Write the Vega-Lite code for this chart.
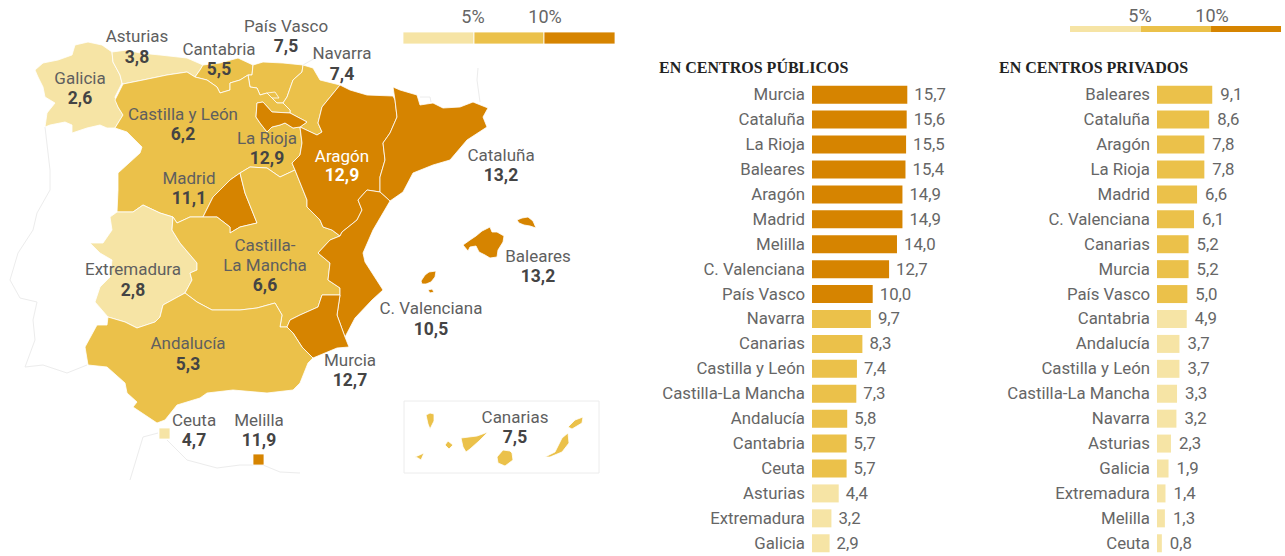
{
"$schema":"https://vega.github.io/schema/vega-lite/v6.json",
"padding":0,"spacing":0,"background":"white",
"config":{"view":{"stroke":null},"font":"Roboto","locale":{"number":{"decimal":",","thousands":".","grouping":[3],"currency":["","€"]}}},
"datasets":{
"publico":[
{"orden":1,"zona":"Murcia","valor":15.7},{"orden":2,"zona":"Cataluña","valor":15.6},{"orden":3,"zona":"La Rioja","valor":15.5},{"orden":4,"zona":"Baleares","valor":15.4},{"orden":5,"zona":"Aragón","valor":14.9},{"orden":6,"zona":"Madrid","valor":14.9},{"orden":7,"zona":"Melilla","valor":14.0},{"orden":8,"zona":"C. Valenciana","valor":12.7},{"orden":9,"zona":"País Vasco","valor":10.0},{"orden":10,"zona":"Navarra","valor":9.7},{"orden":11,"zona":"Canarias","valor":8.3},{"orden":12,"zona":"Castilla y León","valor":7.4},{"orden":13,"zona":"Castilla-La Mancha","valor":7.3},{"orden":14,"zona":"Andalucía","valor":5.8},{"orden":15,"zona":"Cantabria","valor":5.7},{"orden":16,"zona":"Ceuta","valor":5.7},{"orden":17,"zona":"Asturias","valor":4.4},{"orden":18,"zona":"Extremadura","valor":3.2},{"orden":19,"zona":"Galicia","valor":2.9}],
"privado":[
{"orden":1,"zona":"Baleares","valor":9.1},{"orden":2,"zona":"Cataluña","valor":8.6},{"orden":3,"zona":"Aragón","valor":7.8},{"orden":4,"zona":"La Rioja","valor":7.8},{"orden":5,"zona":"Madrid","valor":6.6},{"orden":6,"zona":"C. Valenciana","valor":6.1},{"orden":7,"zona":"Canarias","valor":5.2},{"orden":8,"zona":"Murcia","valor":5.2},{"orden":9,"zona":"País Vasco","valor":5.0},{"orden":10,"zona":"Cantabria","valor":4.9},{"orden":11,"zona":"Andalucía","valor":3.7},{"orden":12,"zona":"Castilla y León","valor":3.7},{"orden":13,"zona":"Castilla-La Mancha","valor":3.3},{"orden":14,"zona":"Navarra","valor":3.2},{"orden":15,"zona":"Asturias","valor":2.3},{"orden":16,"zona":"Galicia","valor":1.9},{"orden":17,"zona":"Extremadura","valor":1.4},{"orden":18,"zona":"Melilla","valor":1.3},{"orden":19,"zona":"Ceuta","valor":0.8}],
"contexto":[
{"type":"Feature","properties":{"nombre":"Portugal"},"geometry":{"type":"LineString","coordinates":[[45,127],[50,170],[50,190],[37,213],[33,230],[18,253],[10,280],[20,298],[37,302],[33,320],[35,340],[25,367],[43,365],[67,373],[87,365]]}},
{"type":"Feature","properties":{"nombre":"Francia"},"geometry":{"type":"LineString","coordinates":[[303,65],[317,57]]}},
{"type":"Feature","properties":{"nombre":"Francia este"},"geometry":{"type":"LineString","coordinates":[[478,68],[477,80],[480,102]]}},
{"type":"Feature","properties":{"nombre":"Andorra"},"geometry":{"type":"LineString","coordinates":[[420,97],[430,97],[431,102]]}},
{"type":"Feature","properties":{"nombre":"África"},"geometry":{"type":"LineString","coordinates":[[130,480],[143,437],[158,433]]}},
{"type":"Feature","properties":{"nombre":"África este"},"geometry":{"type":"LineString","coordinates":[[167,440],[187,460],[217,468],[240,465],[263,465],[280,472],[300,473]]}},
{"type":"Feature","properties":{"nombre":"Recuadro Canarias"},"geometry":{"type":"LineString","coordinates":[[404,401],[599,401],[599,473],[404,473],[404,401]]}}
],
"regiones":[
{"type":"Feature","properties":{"region":"Galicia","valor":2.6},"geometry":{"type":"Polygon","coordinates":[[[35,70],[43,63],[58,60],[72,55],[75,45],[88,42],[102,45],[112,52],[113,62],[120,75],[122,83],[115,97],[118,107],[123,115],[115,128],[107,128],[100,125],[87,128],[72,133],[72,125],[65,122],[50,125],[45,127],[47,113],[55,103],[45,97],[43,87],[38,77],[35,70]]]}},
{"type":"Feature","properties":{"region":"Asturias","valor":3.8},"geometry":{"type":"Polygon","coordinates":[[[112,52],[127,50],[140,53],[160,55],[187,58],[203,65],[200,70],[195,77],[187,72],[167,75],[143,80],[123,84],[122,83],[120,75],[113,62],[112,52]]]}},
{"type":"Feature","properties":{"region":"Cantabria","valor":5.5},"geometry":{"type":"Polygon","coordinates":[[[203,65],[220,63],[238,58],[253,65],[252,75],[248,75],[240,80],[230,83],[230,90],[220,93],[217,87],[207,80],[195,77],[200,70],[203,65]]]}},
{"type":"Feature","properties":{"region":"País Vasco","valor":7.5},"geometry":{"type":"Polygon","coordinates":[[[253,65],[263,62],[283,63],[303,65],[302,72],[293,80],[287,97],[283,103],[277,103],[267,93],[260,95],[257,88],[250,87],[248,75],[252,75],[253,65]]]}},
{"type":"Feature","properties":{"region":"Navarra","valor":7.4},"geometry":{"type":"Polygon","coordinates":[[[303,65],[313,68],[320,80],[340,85],[322,107],[318,123],[322,132],[317,135],[300,127],[307,122],[290,113],[290,110],[283,103],[287,97],[293,80],[302,72],[303,65]]]}},
{"type":"Feature","properties":{"region":"Castilla y León","valor":6.2},"geometry":{"type":"Polygon","coordinates":[[[115,100],[123,84],[143,80],[167,75],[187,72],[195,77],[207,80],[217,87],[220,93],[230,90],[230,83],[240,80],[248,75],[250,87],[257,88],[260,95],[267,93],[277,103],[283,103],[290,110],[290,113],[272,112],[263,102],[257,103],[256,117],[260,123],[267,132],[272,127],[280,125],[285,123],[293,128],[300,127],[302,143],[300,155],[292,163],[295,170],[280,177],[267,168],[250,167],[240,173],[230,180],[213,197],[203,217],[190,217],[177,223],[173,217],[160,213],[143,205],[133,212],[117,212],[118,190],[118,173],[140,153],[142,147],[127,132],[115,128],[123,115],[118,107],[115,100]]]}},
{"type":"Feature","properties":{"region":"Treviño","valor":6.2},"geometry":{"type":"Polygon","coordinates":[[[267,93],[275,92],[279,98],[272,98],[267,93]]]}},
{"type":"Feature","properties":{"region":"La Rioja","valor":12.9},"geometry":{"type":"Polygon","coordinates":[[[257,103],[263,102],[272,112],[290,113],[307,122],[300,127],[293,128],[285,123],[280,125],[272,127],[267,132],[260,123],[256,117],[257,103]]]}},
{"type":"Feature","properties":{"region":"Madrid","valor":11.1},"geometry":{"type":"Polygon","coordinates":[[[240,173],[245,193],[257,223],[240,227],[230,233],[230,227],[217,217],[203,217],[213,197],[230,180],[240,173]]]}},
{"type":"Feature","properties":{"region":"Extremadura","valor":2.8},"geometry":{"type":"Polygon","coordinates":[[[110,217],[117,212],[133,212],[143,205],[160,213],[173,217],[172,230],[180,243],[197,263],[197,270],[190,273],[192,280],[185,293],[163,305],[160,317],[155,322],[137,328],[125,322],[108,317],[95,302],[100,287],[110,277],[112,260],[100,253],[90,243],[103,243],[112,230],[110,217]]]}},
{"type":"Feature","properties":{"region":"Castilla-La Mancha","valor":6.6},"geometry":{"type":"Polygon","coordinates":[[[173,217],[177,223],[190,217],[203,217],[217,217],[230,227],[230,233],[240,227],[257,223],[245,193],[240,173],[250,167],[267,168],[280,177],[295,170],[307,200],[307,207],[320,220],[323,227],[332,230],[340,236],[330,240],[318,253],[330,263],[328,280],[340,288],[340,295],[322,295],[318,307],[300,315],[290,320],[287,327],[280,327],[282,315],[275,303],[257,308],[240,310],[212,310],[197,302],[185,293],[192,280],[190,273],[197,270],[197,263],[180,243],[172,230],[173,217]]]}},
{"type":"Feature","properties":{"region":"Aragón","valor":12.9},"geometry":{"type":"Polygon","coordinates":[[[340,85],[350,90],[367,95],[393,96],[395,100],[397,117],[390,133],[383,143],[385,160],[380,177],[380,192],[367,190],[358,200],[362,210],[357,220],[342,232],[340,236],[332,230],[323,227],[320,220],[307,207],[307,200],[295,170],[292,163],[300,155],[302,143],[300,127],[317,135],[322,132],[318,123],[322,107],[340,85]]]}},
{"type":"Feature","properties":{"region":"Cataluña","valor":13.2},"geometry":{"type":"Polygon","coordinates":[[[393,87],[400,90],[417,95],[420,105],[433,103],[443,108],[460,107],[473,102],[488,108],[483,117],[487,127],[467,140],[450,160],[433,165],[413,173],[403,192],[390,201],[380,192],[380,177],[385,160],[383,143],[390,133],[397,117],[395,100],[393,87]]]}},
{"type":"Feature","properties":{"region":"C. Valenciana","valor":10.5},"geometry":{"type":"Polygon","coordinates":[[[380,192],[390,201],[373,230],[363,253],[365,262],[383,290],[372,300],[355,318],[345,337],[337,315],[340,295],[340,288],[328,280],[330,263],[318,253],[330,240],[340,236],[342,232],[357,220],[362,210],[358,200],[367,190],[380,192]]]}},
{"type":"Feature","properties":{"region":"Murcia","valor":12.7},"geometry":{"type":"Polygon","coordinates":[[[322,295],[340,295],[337,315],[345,337],[349,347],[337,348],[313,358],[302,347],[293,333],[287,327],[290,320],[300,315],[318,307],[322,295]]]}},
{"type":"Feature","properties":{"region":"Andalucía","valor":5.3},"geometry":{"type":"Polygon","coordinates":[[[185,293],[163,305],[160,317],[155,322],[137,328],[125,322],[108,317],[107,325],[97,325],[85,347],[88,365],[107,367],[125,383],[127,393],[137,402],[133,407],[157,423],[165,420],[177,405],[200,398],[207,393],[233,390],[267,393],[293,390],[300,383],[308,363],[313,358],[302,347],[293,333],[287,327],[280,327],[282,315],[275,303],[257,308],[240,310],[212,310],[197,302],[185,293]]]}},
{"type":"Feature","properties":{"region":"Baleares","valor":13.2},"geometry":{"type":"MultiPolygon","coordinates":[[[[463,245],[470,240],[476,236],[482,231],[490,227],[492,232],[497,232],[504,236],[503,242],[498,250],[497,257],[490,258],[485,255],[479,252],[476,246],[470,247],[468,251],[463,245]]],[[[517,220],[522,218],[528,217],[533,221],[536,228],[530,226],[524,225],[519,223],[517,220]]],[[[421,281],[425,275],[429,272],[436,271],[435,277],[431,282],[426,284],[422,284],[421,281]]],[[[428,290],[432,289],[434,292],[430,293],[428,290]]]]}},
{"type":"Feature","properties":{"region":"Canarias","valor":7.5},"geometry":{"type":"MultiPolygon","coordinates":[[[[426,415],[430,413],[434,414],[434,421],[430,429],[428,424],[426,415]]],[[[415,457],[424,453],[421,460],[418,458],[415,457]]],[[[445,445],[448,441],[453,445],[449,449],[445,445]]],[[[461,438],[477,436],[488,432],[479,441],[470,449],[466,452],[463,447],[461,438]]],[[[497,457],[503,450],[510,451],[512,453],[513,460],[505,466],[498,463],[497,457]]],[[[545,457],[555,452],[562,438],[568,433],[569,443],[562,452],[550,457],[545,457]]],[[[568,427],[575,420],[583,417],[582,423],[572,429],[568,427]]]]}},
{"type":"Feature","properties":{"region":"Ceuta","valor":4.7},"geometry":{"type":"Polygon","coordinates":[[[159,428],[170,428],[170,439],[159,439],[159,428]]]}},
{"type":"Feature","properties":{"region":"Melilla","valor":11.9},"geometry":{"type":"Polygon","coordinates":[[[253,454],[264,454],[264,465],[253,465],[253,454]]]}},
{"type":"Feature","properties":{"region":"Leyenda menos de 5%","valor":2.5},"geometry":{"type":"Polygon","coordinates":[[[403,32],[474,32],[474,44],[403,44],[403,32]]]}},
{"type":"Feature","properties":{"region":"Leyenda de 5% a 10%","valor":7.5},"geometry":{"type":"Polygon","coordinates":[[[474,32],[544,32],[544,44],[474,44],[474,32]]]}},
{"type":"Feature","properties":{"region":"Leyenda más de 10%","valor":12.5},"geometry":{"type":"Polygon","coordinates":[[[544,32],[615,32],[615,44],[544,44],[544,32]]]}}
],
"etiquetas":[
{"nombre":"Galicia","valor":2.6,"este":80,"norteNombre":78,"norteValor":98},
{"nombre":"Asturias","valor":3.8,"este":137,"norteNombre":36,"norteValor":57},
{"nombre":"Cantabria","valor":5.5,"este":219,"norteNombre":49,"norteValor":69},
{"nombre":"País Vasco","valor":7.5,"este":286,"norteNombre":26,"norteValor":46},
{"nombre":"Navarra","valor":7.4,"este":342,"norteNombre":53,"norteValor":74},
{"nombre":"Castilla y León","valor":6.2,"este":183,"norteNombre":114,"norteValor":134},
{"nombre":"La Rioja","valor":12.9,"este":267,"norteNombre":138,"norteValor":158},
{"nombre":"Madrid","valor":11.1,"este":189,"norteNombre":178,"norteValor":198},
{"nombre":"Aragón","valor":12.9,"este":342,"norteNombre":156,"norteValor":175},
{"nombre":"Cataluña","valor":13.2,"este":501,"norteNombre":155,"norteValor":175},
{"nombre":"Baleares","valor":13.2,"este":538,"norteNombre":256,"norteValor":276},
{"nombre":"C. Valenciana","valor":10.5,"este":431,"norteNombre":308,"norteValor":329},
{"nombre":"Castilla-\nLa Mancha","valor":6.6,"este":265,"norteNombre":245,"norteValor":285},
{"nombre":"Extremadura","valor":2.8,"este":133,"norteNombre":269,"norteValor":290},
{"nombre":"Andalucía","valor":5.3,"este":188,"norteNombre":343,"norteValor":364},
{"nombre":"Murcia","valor":12.7,"este":350,"norteNombre":360,"norteValor":380},
{"nombre":"Ceuta","valor":4.7,"este":194,"norteNombre":420,"norteValor":440},
{"nombre":"Melilla","valor":11.9,"este":259,"norteNombre":420,"norteValor":440},
{"nombre":"Canarias","valor":7.5,"este":515,"norteNombre":417,"norteValor":437}
]
},
"hconcat":[
{"width":640,"height":556,
 "projection":{"type":"identity","scale":1,"translate":[0,0]},
 "layer":[
  {"data":{"name":"contexto"},"mark":{"type":"geoshape","filled":false,"stroke":"#ececec","strokeWidth":1}},
  {"data":{"name":"regiones"},"mark":{"type":"geoshape","stroke":"#ffffff","strokeWidth":0.8},
   "encoding":{"color":{"field":"properties.valor","type":"quantitative","scale":{"type":"threshold","domain":[5,10],"range":["#F6E4A5","#EBC14A","#D68400"]},"legend":null}}},
  {"data":{"name":"etiquetas"},"mark":{"type":"text","fontSize":17,"lineBreak":"\n","lineHeight":20,"baseline":"middle","align":"center","dy":1},
   "encoding":{"longitude":{"field":"este","type":"quantitative"},"latitude":{"field":"norteNombre","type":"quantitative"},"text":{"field":"nombre"},
    "color":{"condition":{"test":"datum.nombre==='Aragón'","value":"#ffffff"},"value":"#5f5f5f"}}},
  {"data":{"name":"etiquetas"},"mark":{"type":"text","fontSize":17.5,"fontWeight":"bold","baseline":"middle","align":"center","dy":1},
   "encoding":{"longitude":{"field":"este","type":"quantitative"},"latitude":{"field":"norteValor","type":"quantitative"},"text":{"field":"valor","type":"quantitative","format":".1f"},
    "color":{"condition":{"test":"datum.nombre==='Aragón'","value":"#ffffff"},"value":"#444444"}}},
  {"data":{"values":[{"umbral":"5%","este":473,"norte":18},{"umbral":"10%","este":545,"norte":18}]},"mark":{"type":"text","fontSize":18,"color":"#666666","baseline":"middle","align":"center"},
   "encoding":{"longitude":{"field":"este","type":"quantitative"},"latitude":{"field":"norte","type":"quantitative"},"text":{"field":"umbral"}}}
 ]},
{"width":340,"height":556,
 "encoding":{
  "x":{"field":"valor","type":"quantitative","stack":null,"scale":{"domain":[-28.336,27.677],"nice":false,"zero":false},"axis":null},
  "y":{"field":"orden","type":"quantitative","scale":{"domain":[-2.8,19.511],"reverse":true,"nice":false,"zero":false,"padding":0},"axis":null}},
 "layer":[
  {"data":{"name":"publico"},"mark":{"type":"bar","orient":"horizontal","size":18},
   "encoding":{"color":{"field":"valor","type":"quantitative","scale":{"type":"threshold","domain":[5,10],"range":["#F6E4A5","#EBC14A","#D68400"]},"legend":null}}},
  {"data":{"name":"publico"},"mark":{"type":"text","fontSize":16.8,"color":"#666666","align":"left","baseline":"middle","dx":7,"dy":0.5},
   "encoding":{"text":{"field":"valor","type":"quantitative","format":".1f"}}},
  {"data":{"name":"publico"},"mark":{"type":"text","fontSize":16.8,"color":"#666666","align":"right","baseline":"middle","dx":-7,"dy":0.5},
   "encoding":{"x":{"datum":0,"type":"quantitative"},"text":{"field":"zona"}}},
  {"data":{"values":[{"titulo":"EN CENTROS PÚBLICOS","valor":-25.2,"orden":-0.07}]},"mark":{"type":"text","font":"Liberation Serif","fontWeight":"bold","fontSize":16,"color":"#222222","align":"left","baseline":"middle"},
   "encoding":{"text":{"field":"titulo"}}}
 ]},
{"width":305,"height":556,
 "encoding":{
  "x":{"field":"valor","type":"quantitative","stack":null,"scale":{"domain":[-29.16,21.087],"nice":false,"zero":false},"axis":null},
  "y":{"field":"orden","type":"quantitative","scale":{"domain":[-2.8,19.511],"reverse":true,"nice":false,"zero":false,"padding":0},"axis":null}},
 "layer":[
  {"data":{"name":"privado"},"mark":{"type":"bar","orient":"horizontal","size":18},
   "encoding":{"color":{"field":"valor","type":"quantitative","scale":{"type":"threshold","domain":[5,10],"range":["#F6E4A5","#EBC14A","#D68400"]},"legend":null}}},
  {"data":{"name":"privado"},"mark":{"type":"text","fontSize":16.8,"color":"#666666","align":"left","baseline":"middle","dx":8,"dy":0.5},
   "encoding":{"text":{"field":"valor","type":"quantitative","format":".1f"}}},
  {"data":{"name":"privado"},"mark":{"type":"text","fontSize":16.8,"color":"#666666","align":"right","baseline":"middle","dx":-7,"dy":0.5},
   "encoding":{"x":{"datum":0,"type":"quantitative"},"text":{"field":"zona"}}},
  {"data":{"values":[{"titulo":"EN CENTROS PRIVADOS","valor":-26.03,"orden":-0.07}]},"mark":{"type":"text","font":"Liberation Serif","fontWeight":"bold","fontSize":16,"color":"#222222","align":"left","baseline":"middle"},
   "encoding":{"text":{"field":"titulo"}}},
  {"data":{"values":[{"desde":-14.33,"hasta":-2.64,"arriba":-1.757,"abajo":-1.516,"tramo":2.5},{"desde":-2.64,"hasta":8.9,"arriba":-1.757,"abajo":-1.516,"tramo":7.5},{"desde":8.9,"hasta":20.43,"arriba":-1.757,"abajo":-1.516,"tramo":12.5}]},
   "mark":{"type":"rect"},
   "encoding":{"x":{"field":"desde","type":"quantitative"},"x2":{"field":"hasta"},"y":{"field":"arriba","type":"quantitative"},"y2":{"field":"abajo"},
    "color":{"field":"tramo","type":"quantitative","scale":{"type":"threshold","domain":[5,10],"range":["#F6E4A5","#EBC14A","#D68400"]},"legend":null}}},
  {"data":{"values":[{"umbral":"5%","valor":-2.8,"orden":-2.118},{"umbral":"10%","valor":9.06,"orden":-2.118}]},"mark":{"type":"text","fontSize":18,"color":"#666666","align":"center","baseline":"middle"},
   "encoding":{"text":{"field":"umbral"}}}
 ]}
]
}
